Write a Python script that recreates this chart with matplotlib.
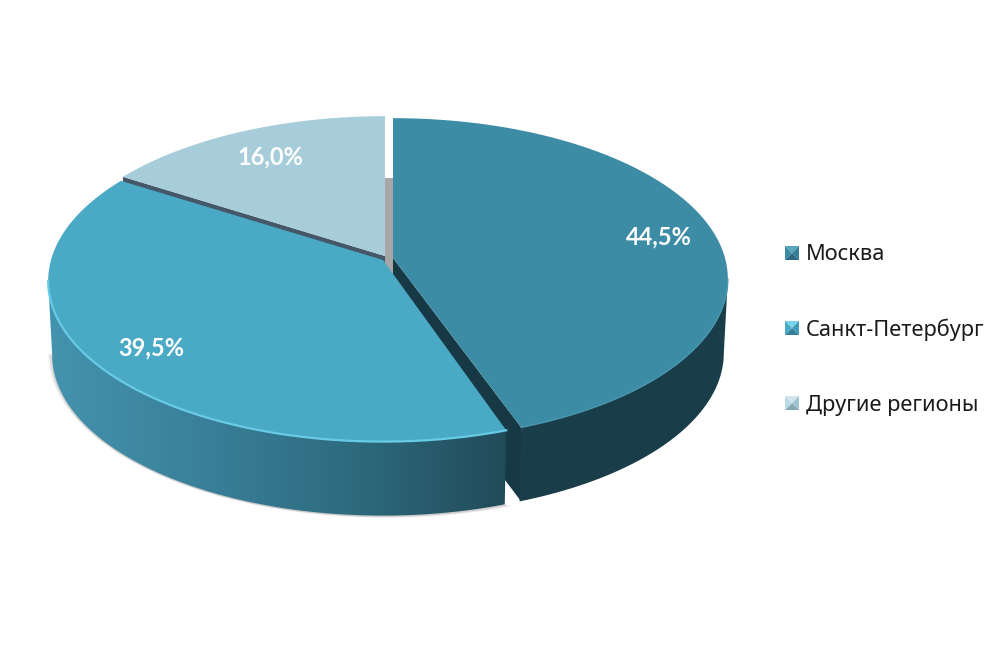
import numpy as np
import matplotlib
matplotlib.use("Agg")
import matplotlib.pyplot as plt
from matplotlib.colors import LinearSegmentedColormap
from matplotlib.patches import Polygon

categories = ["Москва", "Санкт-Петербург", "Другие регионы"]
shares = [44.5, 39.5, 16.0]
share_labels = ["44,5%", "39,5%", "16,0%"]

plt.rcParams["font.family"] = ["Noto Sans", "DejaVu Sans"]

# pie geometry, in pixels of the picture
RX = 332
RY = 158
PERSP = 0.13
DEPTH = 74
LOWER_RX = 0.988
apex_x = [393, 383, 385]
apex_y = [258, 260, 256]
top_colors = ["#3d8ca6", "#4aa9c5", "#a7cddb"]
rim_colors = ["#4797b0", "#68cbe6", "#a7cddb"]
label_x = [659, 151, 270]
label_y = [237, 348, 157]
legend_y = [255, 330, 405]
square_y = [253, 328, 403]
# top, right, bottom, left faces of the legend squares
legend_faces = [
    ["#58a6be", "#357f98", "#2b6a80", "#3b8ba5"],
    ["#78d3ec", "#3f9cb8", "#347f98", "#4aa9c5"],
    ["#d3e6ed", "#9fc5d2", "#85a9b6", "#bcd9e3"],
]


def rim(i, a0, a1, dy=0, n=200, sx=1.0):
    t = np.radians(np.linspace(a0, a1, n))
    u, v = np.sin(t), np.cos(t)
    w = 1 + PERSP * v
    return np.column_stack([apex_x[i] + sx * RX * u / w, apex_y[i] - RY * v / w + dy])


edges = np.cumsum([0] + shares) * 3.6
# angle of the widest point of the rim, right and left
widest = np.degrees(np.arccos(-PERSP))

fig = plt.figure(figsize=(10.03, 6.68), dpi=100)
ax = fig.add_axes([0, 0, 1, 1])

# soft shadow under the front of the pie
base = rim(1, edges[1] + 0.8, 360 - widest, DEPTH, sx=LOWER_RX)
for k in range(6):
    c = base.mean(axis=0)
    ax.add_patch(Polygon(c + (base - c) * (1.0 + 0.005 * k) + [0, 1], color="black",
                         alpha=0.035, lw=0, zorder=1))

# back wall seen through the gap
ax.fill([apex_x[2], apex_x[0], apex_x[0], apex_x[2]], [178, 178, 276, 276],
        color="#a6a6a6", lw=0, zorder=2)

# other regions, with its dark cut face
p = rim(2, edges[2], edges[3])
start = rim(2, edges[2], edges[2], n=1)[0]
ax.fill([apex_x[2], start[0], start[0], apex_x[2]],
        [apex_y[2], start[1], start[1] + 10, apex_y[2] + 10], color="#44586a", lw=0, zorder=3)
ax.fill(np.r_[apex_x[2], p[:, 0]], np.r_[apex_y[2], p[:, 1]], color=top_colors[2], lw=0, zorder=4)

# moscow: cut face, outer wall, top
end = rim(0, edges[1], edges[1], n=1)[0]
ax.fill([apex_x[0], end[0], end[0], apex_x[0]],
        [apex_y[0], end[1], end[1] + DEPTH, apex_y[0] + DEPTH], color="#163945", lw=0, zorder=5)
front = rim(0, widest, edges[1])
low = rim(0, widest, edges[1], DEPTH, sx=LOWER_RX)
ax.add_patch(Polygon(np.vstack([front, low[::-1]]), color="#1a3d4a", lw=0, zorder=5))
p = rim(0, edges[0], edges[1])
ax.fill(np.r_[apex_x[0], p[:, 0]], np.r_[apex_y[0], p[:, 1]], color=top_colors[0], lw=0, zorder=6)
ax.plot(front[:, 0], front[:, 1], color=rim_colors[0], lw=1.0, zorder=6)

# saint petersburg: gradient wall, top
p = rim(1, edges[1] + 0.8, edges[2])
front = rim(1, edges[1] + 0.8, 360 - widest)
low = rim(1, edges[1] + 0.8, 360 - widest, DEPTH, sx=LOWER_RX)
wall = Polygon(np.vstack([front, low[::-1]]), transform=ax.transData, lw=0, fc="none", zorder=7)
ax.add_patch(wall)
wall_cmap = LinearSegmentedColormap.from_list(
    "wall", ["#4493af", "#3a8099", "#2d6a7e", "#214a58"])
grad = ax.imshow(np.linspace(0, 1, 256)[None, :], extent=[48, 510, 520, 180], cmap=wall_cmap,
                 aspect="auto", zorder=7)
grad.set_clip_path(wall)
ax.fill(np.r_[apex_x[1], p[:, 0]], np.r_[apex_y[1], p[:, 1]], color=top_colors[1], lw=0, zorder=8)
ax.plot(front[:, 0], front[:, 1], color=rim_colors[1], lw=1.6, zorder=8)

for lx, ly, s in zip(label_x, label_y, share_labels):
    ax.text(lx, ly, s, color="white", fontsize=17, fontweight="bold", family="Lato",
            ha="center", va="center", zorder=10)

# legend with bevelled squares
for name, y, sy, faces in zip(categories, legend_y, square_y, legend_faces):
    x0, x1, y0, y1 = 785, 799, sy - 7, sy + 7
    xc, yc = (x0 + x1) / 2, (y0 + y1) / 2
    ax.fill([x0, x1, xc], [y0, y0, yc], color=faces[0], lw=0, zorder=10)
    ax.fill([x1, x1, xc], [y0, y1, yc], color=faces[1], lw=0, zorder=10)
    ax.fill([x0, x1, xc], [y1, y1, yc], color=faces[2], lw=0, zorder=10)
    ax.fill([x0, x0, xc], [y0, y1, yc], color=faces[3], lw=0, zorder=10)
    ax.text(806, y, name, color="#1a1a1a", fontsize=15.7, ha="left", va="center", zorder=10)

ax.set_xlim(0, 1003)
ax.set_ylim(668, 0)
ax.axis("off")

fig.savefig("out.png", dpi=100)
